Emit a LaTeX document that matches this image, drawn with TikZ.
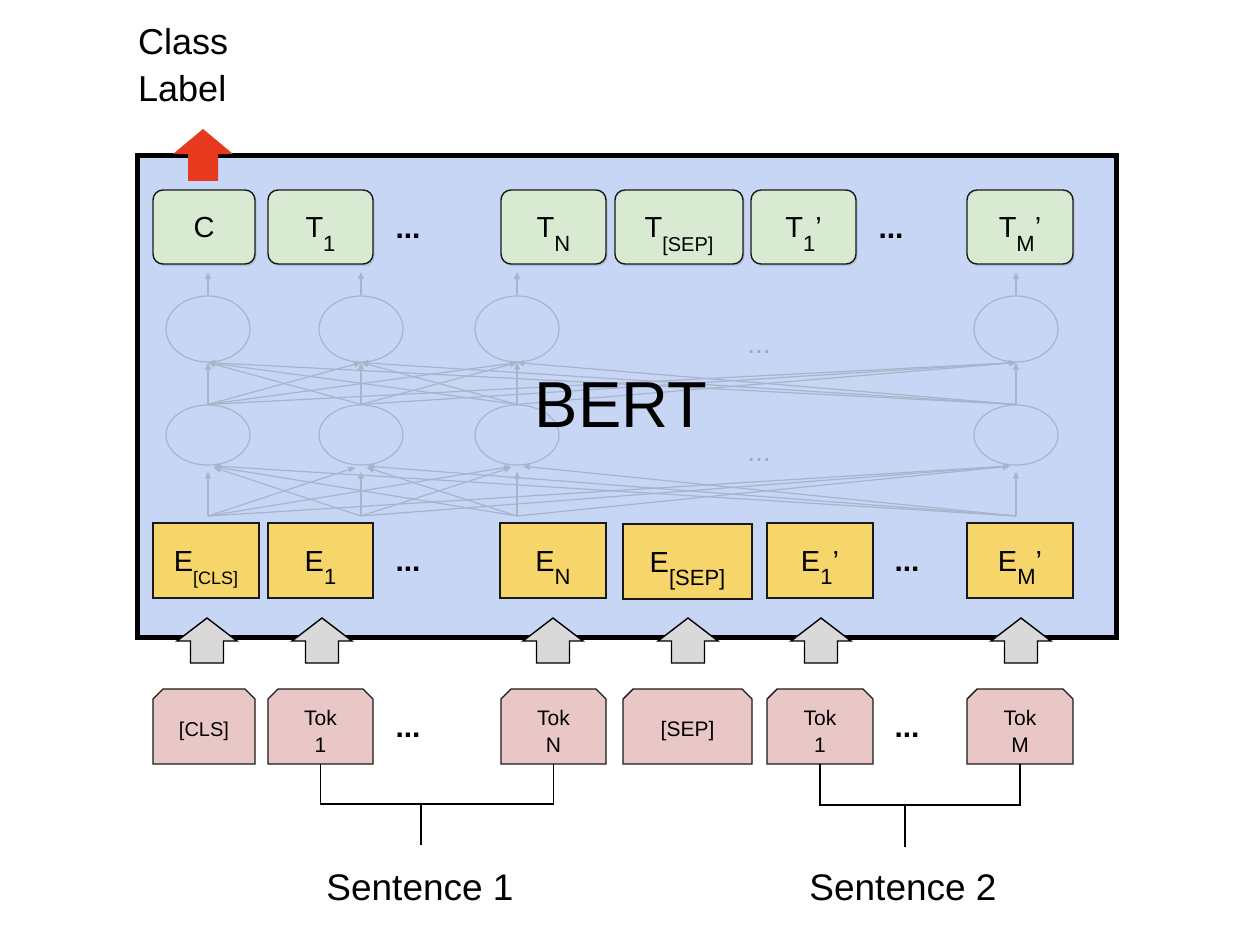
\documentclass[tikz,border=0pt]{standalone}
\usepackage{fontspec}
\setmainfont{Liberation Sans}
\usetikzlibrary{arrows.meta,shadows,calc,shapes.geometric}
\definecolor{bertblue}{HTML}{C6D6F4}
\definecolor{tgreen}{HTML}{D9EAD3}
\definecolor{eyellow}{HTML}{F6D56A}
\definecolor{tokpink}{HTML}{EAC7C7}
\definecolor{clsred}{HTML}{E6391E}
\definecolor{arrgray}{HTML}{D9D9D9}
\definecolor{netcol}{HTML}{A9B4CC}
\definecolor{netdots}{HTML}{9EA8BF}
\newcommand{\fs}[2]{\fontsize{#1}{#2}\selectfont}
\newcommand{\lsub}[2][22]{\raisebox{-13.5pt}{\fs{#1}{#1}#2}}
\begin{document}
\begin{tikzpicture}[x=1pt,y=-1pt,
  mainbox/.style={draw=black, line width=5pt, fill=bertblue, inner sep=0pt, outer sep=0pt},
  tbox/.style={draw=black!90, line width=1.4pt, fill=tgreen, rounded corners=10pt,
    minimum height=74pt, text height=21pt, text depth=0pt, inner sep=0pt,
    font=\fs{29}{32}, drop shadow={opacity=0.3, shadow xshift=1.5pt, shadow yshift=-2pt}},
  ebox/.style={draw=black!90, line width=1.4pt, fill=eyellow,
    minimum height=75pt, text height=21pt, text depth=0pt, inner sep=0pt, font=\fs{29}{32}},
  tokanchor/.style={minimum height=75pt, inner sep=0pt, outer sep=0pt},
  tokline/.style={draw=black!90, line width=1.4pt, fill=tokpink},
  toktext/.style={align=center, inner sep=0pt, font=\fs{21}{27}},
  neuron/.style={ellipse, draw=netcol, line width=1.2pt, minimum width=84pt, inner sep=0pt},
  netline/.style={draw=netcol, line width=1.2pt, -{Triangle[length=7pt,width=6pt]}},
  dots/.style={inner sep=0pt, font=\fs{30}{32}\bfseries},
  netdot/.style={inner sep=0pt, font=\fs{28}{30}, text=netdots},
  bracket/.style={draw=black, line width=1.4pt},
  blockarrow/.style={draw=black, line width=1.4pt, fill=arrgray, line join=miter},
  label/.style={inner sep=0pt, font=\fs{37}{40}}
]
\useasboundingbox (0,0) rectangle (1248,944);
\fill[white] (0,0) rectangle (1248,944);

% main BERT box
\node[mainbox, minimum width=979pt, minimum height=482pt] (bertbox) at (626.5,396.5) {};

% hidden network
\foreach \i/\x in {1/208,2/361,3/517,4/1016} {
  \node[neuron, minimum height=66pt] (U\i) at (\x,329) {};
  \node[neuron, minimum height=60pt] (L\i) at (\x,435) {};
  \coordinate (B\i) at (\x,516);
  \coordinate (O\i) at (\x,272);
}
\foreach \i in {1,...,4} {
  \foreach \j in {1,...,4} {
    \draw[netline, shorten >=6pt] (B\i) -- (L\j.south);
    \draw[netline] (L\i.north) -- (U\j.south);
  }
  \draw[netline] (U\i.north) -- (O\i);
}
\node[netdot] (hd1) at (759,352) {...};
\node[netdot] (hd2) at (759,460) {...};

\node[inner sep=0pt, font=\fs{65}{70}] (bert) at (621,405) {BERT};

% output boxes
\node[tbox, minimum width=102pt] (C) at (204,227) {C};
\node[tbox, minimum width=105pt] (T1) at (320.5,227) {T\lsub{1}};
\node[tbox, minimum width=105pt] (TN) at (553.5,227) {T\lsub{N}};
\node[tbox, minimum width=128pt] (TSEP) at (679,227) {T\lsub[20]{[SEP]}};
\node[tbox, minimum width=105pt] (T1p) at (803.5,227) {T\lsub{1}’};
\node[tbox, minimum width=106pt] (TMp) at (1020,227) {T\lsub{M}’};
\node[dots] (td1) at (408,236) {...};
\node[dots] (td2) at (891,236) {...};

% embedding boxes
\node[ebox, minimum width=106pt] (ECLS) at (206,560.5) {E\lsub[18]{[CLS]}};
\node[ebox, minimum width=105pt] (E1) at (320.5,560.5) {E\lsub{1}};
\node[ebox, minimum width=106pt] (EN) at (553,560.5) {E\lsub{N}};
\node[ebox, minimum width=129pt] (ESEP) at (687.5,561.5) {E\lsub{[SEP]}};
\node[ebox, minimum width=106pt] (E1p) at (820,560.5) {E\lsub{1}’};
\node[ebox, minimum width=106pt] (EMp) at (1020,560.5) {E\lsub{M}’};
\node[dots] (ed1) at (408,569) {...};
\node[dots] (ed2) at (907,569) {...};

% red class label arrow
\fill[clsred] (188,181) -- (188,154) -- (173,154) -- (203,129) -- (233,154) -- (218,154) -- (218,181) -- cycle;
\node[anchor=north west, align=left, inner sep=0pt, font=\fs{36}{47}] (cl) at (138,28) {Class\\Label};

% gray input arrows
\foreach \x in {207,322,553,688,821,1021} {
  \draw[blockarrow] (\x-16.5,663) -- (\x-16.5,641) -- (\x-30,641) -- (\x,618) -- (\x+30,641) -- (\x+16.5,641) -- (\x+16.5,663) -- cycle;
}

% token boxes
\foreach \n/\x/\w in {tkCLS/204/102, tk1/320.5/105, tkN/553.5/105, tkSEP/687.5/129, tk1p/820/106, tkM/1020/106} {
  \node[tokanchor, minimum width=\w pt] (\n) at (\x,726.5) {};
  \draw[tokline] (\n.south west) -- ([yshift=-10pt]\n.north west) -- ([xshift=10pt]\n.north west)
     -- ([xshift=-10pt]\n.north east) -- ([yshift=-10pt]\n.north east) -- (\n.south east) -- cycle;
}
\node[toktext, font=\fs{20}{24}] (tkCLSt) at (204,731) {[CLS]};
\node[toktext] (tk1t) at (320.5,731) {Tok\\1};
\node[toktext] (tkNt) at (553.5,731) {Tok\\N};
\node[toktext] (tkSEPt) at (687.5,731) {[SEP]};
\node[toktext] (tk1pt) at (820,731) {Tok\\1};
\node[toktext] (tkMt) at (1020,731) {Tok\\M};
\node[dots] (kd1) at (408,735) {...};
\node[dots] (kd2) at (907,735) {...};

% sentence brackets
\coordinate (s1a) at (421,804);
\coordinate (s1b) at (421,845);
\coordinate (s2a) at (905,805);
\coordinate (s2b) at (905,847);
\draw[bracket] (tk1.south) |- (s1a) -| (tkN.south);
\draw[bracket] (s1a) -- (s1b);
\draw[bracket] (tk1p.south) |- (s2a) -| (tkM.south);
\draw[bracket] (s2a) -- (s2b);
\node[label] (sent1) at (420,888) {Sentence 1};
\node[label] (sent2) at (903,888) {Sentence 2};
\end{tikzpicture}
\end{document}
